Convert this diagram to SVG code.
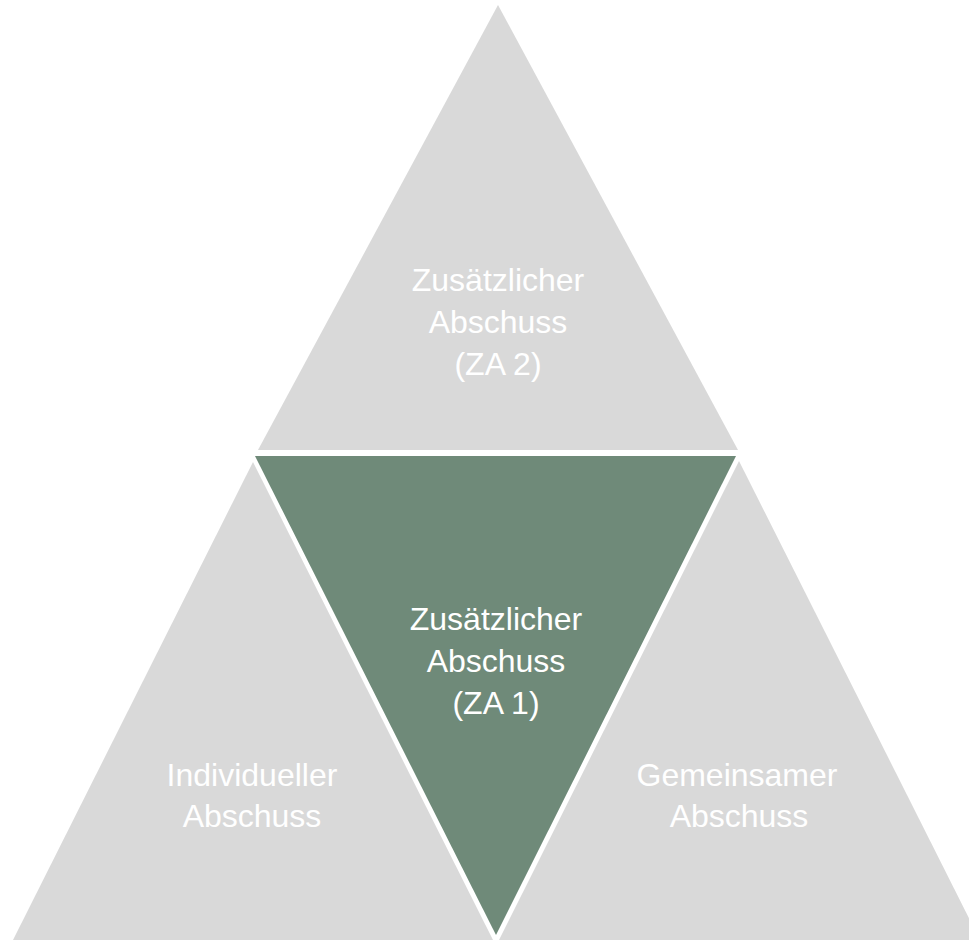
<svg xmlns="http://www.w3.org/2000/svg" width="969" height="940" viewBox="0 0 969 940">
  <style>
    .gray { fill: #D9D9D9; }
    .green { fill: #6F8A79; }
    .lbl { font-family: "Liberation Sans", Arial, sans-serif; font-size: 32px; fill: #FFFFFF; text-anchor: middle; }
  </style>
  <rect x="0" y="0" width="969" height="940" fill="#FFFFFF"/>
  <g id="top">
    <polygon class="gray" points="498,5 738,450 258,450"/>
    <text class="lbl" x="498" y="291">Zusätzlicher</text>
    <text class="lbl" x="498" y="333">Abschuss</text>
    <text class="lbl" x="498" y="375">(ZA 2)</text>
  </g>
  <g id="left">
    <polygon class="gray" points="253,462 493,940 13,940"/>
    <text class="lbl" x="252" y="786">Individueller</text>
    <text class="lbl" x="252" y="827">Abschuss</text>
  </g>
  <g id="right">
    <polygon class="gray" points="739,461 980,940 499,940"/>
    <text class="lbl" x="737" y="786">Gemeinsamer</text>
    <text class="lbl" x="739" y="827">Abschuss</text>
  </g>
  <g id="center">
    <polygon class="green" points="255,456 736,456 496,935"/>
    <text class="lbl" x="496" y="630">Zusätzlicher</text>
    <text class="lbl" x="496" y="672">Abschuss</text>
    <text class="lbl" x="496" y="714">(ZA 1)</text>
  </g>
  <g id="connectors"></g>
</svg>
